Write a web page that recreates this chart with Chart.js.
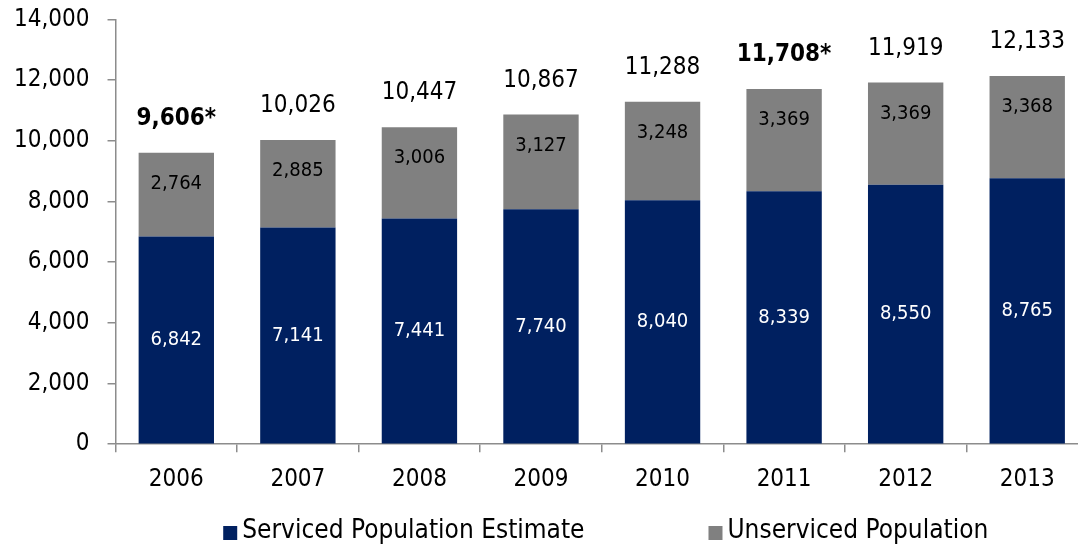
<!DOCTYPE html>
<html>
<head>
<meta charset="utf-8">
<script src="https://cdn.jsdelivr.net/npm/chart.js@4.4.1/dist/chart.umd.min.js"></script>
<style>
  html, body { margin: 0; padding: 0; background: #fff; overflow: hidden; }
  #wrap { width: 1088px; height: 559px; margin-top: -13px; }
</style>
</head>
<body>
<div id="wrap"><canvas id="chart"></canvas></div>
<script>
// Serviced vs unserviced population by year, stacked bars with totals on top.

const YEARS      = ['2006', '2007', '2008', '2009', '2010', '2011', '2012', '2013'];
const SERVICED   = [6842, 7141, 7441, 7740, 8040, 8339, 8550, 8765];
const UNSERVICED = [2764, 2885, 3006, 3127, 3248, 3369, 3369, 3368];
// totals that carry an asterisk (estimates) and are shown bold
const FLAGGED    = [true, false, false, false, false, true, false, false];
const SERIES     = ['Serviced Population Estimate', 'Unserviced Population'];

const NAVY = '#002060';
const GREY = '#808080';
const AXIS = '#8c8c8c';
const FONT = '"DejaVu Sans Condensed", "DejaVu Sans", sans-serif';
const SHIFT = 13; // canvas is pulled up by this many px (see #wrap)

const fmt = v => v.toLocaleString('en-US');

// ── Value labels: inside each segment + total above the stack ────────────────
const barLabels = {
  id: 'barLabels',
  afterDatasetsDraw(chart) {
    const ctx = chart.ctx;
    const m0 = chart.getDatasetMeta(0);
    const m1 = chart.getDatasetMeta(1);
    ctx.save();
    ctx.textAlign = 'center';
    ctx.textBaseline = 'middle';
    YEARS.forEach((y, i) => {
      const b0 = m0.data[i];
      const b1 = m1.data[i];

      ctx.fillStyle = '#ffffff';
      ctx.font = '20px ' + FONT;
      ctx.fillText(fmt(SERVICED[i]), b0.x, (b0.y + b0.base) / 2);

      ctx.fillStyle = '#000000';
      ctx.fillText(fmt(UNSERVICED[i]), b1.x, b1.y + 31);

      const total = SERVICED[i] + UNSERVICED[i];
      ctx.font = (FLAGGED[i] ? 'bold ' : '') + '24px ' + FONT;
      ctx.fillText(fmt(total) + (FLAGGED[i] ? '*' : ''), b1.x, b1.y - 34);
    });
    ctx.restore();
  }
};

// ── Legend: two items spaced wide apart under the axis ───────────────────────
const wideLegend = {
  id: 'wideLegend',
  afterDraw(chart) {
    const ctx = chart.ctx;
    const area = chart.chartArea;
    const colors = [NAVY, GREY];
    const box = 14, gap = 5, between = 124, yMid = 531 + SHIFT;
    ctx.save();
    ctx.font = '26px ' + FONT;
    ctx.textBaseline = 'middle';
    const widths = SERIES.map(s => box + gap + ctx.measureText(s).width);
    let x = (area.left + area.right) / 2 + 4 - (widths[0] + between + widths[1]) / 2;
    SERIES.forEach((s, i) => {
      ctx.fillStyle = colors[i];
      ctx.fillRect(x, yMid - 5, box, box);
      ctx.fillStyle = '#000000';
      ctx.fillText(s, x + box + gap, yMid);
      x += widths[i] + between;
    });
    ctx.restore();
  }
};

new Chart(document.getElementById('chart'), {
  type: 'bar',
  data: {
    labels: YEARS,
    datasets: [
      { label: SERIES[0], data: SERVICED,   backgroundColor: NAVY, borderWidth: 0 },
      { label: SERIES[1], data: UNSERVICED, backgroundColor: GREY, borderWidth: 0 }
    ]
  },
  options: {
    responsive: true,
    maintainAspectRatio: false,
    animation: false,
    layout: { padding: { top: 0, right: 0, bottom: 39, left: -4 } },
    datasets: { bar: { barPercentage: 0.62, categoryPercentage: 1 } },
    plugins: {
      legend: { display: false },
      tooltip: { enabled: false }
    },
    scales: {
      x: {
        stacked: true,
        grid: {
          offset: true,
          drawOnChartArea: false,
          tickLength: 8,
          tickColor: AXIS,
          lineWidth: 1.5
        },
        border: { color: AXIS, width: 1.5 },
        ticks: { color: '#000', font: { family: FONT, size: 24 }, padding: 13 }
      },
      y: {
        stacked: true,
        min: 0,
        max: 14000,
        grid: {
          drawOnChartArea: false,
          tickLength: 8,
          tickColor: AXIS,
          lineWidth: 1.5
        },
        border: { color: AXIS, width: 1.5 },
        ticks: {
          stepSize: 2000,
          color: '#000',
          padding: 18,
          font: { family: FONT, size: 24 },
          callback: v => fmt(v)
        }
      }
    }
  },
  plugins: [barLabels, wideLegend]
});
</script>
</body>
</html>
